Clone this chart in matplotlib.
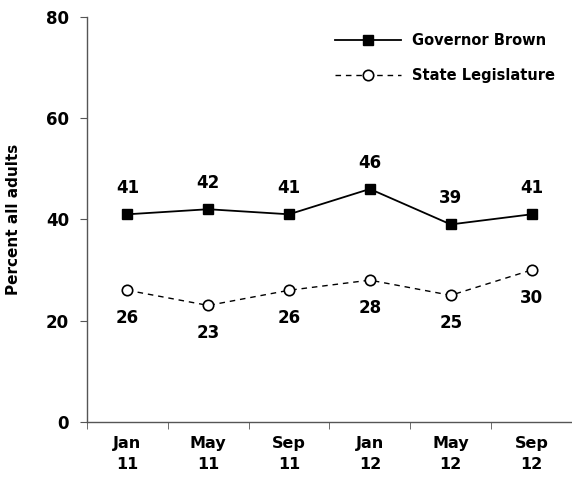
import matplotlib.pyplot as plt

# approval ratings, percent of all adults
periods = ["Jan\n11", "May\n11", "Sep\n11", "Jan\n12", "May\n12", "Sep\n12"]
governor = [41, 42, 41, 46, 39, 41]
legislature = [26, 23, 26, 28, 25, 30]

plt.rcParams['font.family'] = ['DejaVu Sans']
plt.rcParams['font.weight'] = 'bold'

fig = plt.figure(figsize=(5.72, 4.8), dpi=100)
ax = fig.add_axes([0.152, 0.121, 0.848, 0.844])

x = range(len(periods))
ax.plot(x, governor, color='black', lw=1.3, marker='s', markersize=7.5,
        markerfacecolor='black', label='Governor Brown')
ax.plot(x, legislature, color='black', lw=1.0, ls=(0, (4, 3.5)), marker='o',
        markersize=7.5, markerfacecolor='white', markeredgecolor='black',
        markeredgewidth=1.2, label='State Legislature')

for i, v in enumerate(governor):
    ax.annotate(str(v), (i, v), xytext=(0, 19), textcoords='offset points',
                ha='center', va='center', fontsize=12, fontweight='bold')
for i, v in enumerate(legislature):
    ax.annotate(str(v), (i, v), xytext=(0, -20), textcoords='offset points',
                ha='center', va='center', fontsize=12, fontweight='bold')

ax.set_xlim(-0.5, 5.5)
ax.set_ylim(0, 80)
ax.set_yticks([0, 20, 40, 60, 80])
ax.set_xticks(list(x))
ax.set_xticklabels(periods, fontsize=11.5, fontweight='bold', linespacing=1.5)
ax.set_xticks([i - 0.5 for i in range(len(periods) + 1)], minor=True)
ax.tick_params(axis='x', which='major', length=0, pad=10)
ax.tick_params(axis='x', which='minor', length=5, color='#555555')
ax.tick_params(axis='y', length=5, color='#555555', pad=8, labelsize=12)
for t in ax.get_yticklabels():
    t.set_fontweight('bold')

ax.set_ylabel('Percent all adults', fontsize=11, fontweight='bold', labelpad=18)

for side in ['top', 'right']:
    ax.spines[side].set_visible(False)
for side in ['left', 'bottom']:
    ax.spines[side].set_color('#555555')
    ax.spines[side].set_linewidth(1.0)

leg = ax.legend(loc='upper left', bbox_to_anchor=(335 / 572, 1 - 33 / 480),
                bbox_transform=fig.transFigure, frameon=False,
                borderpad=0, borderaxespad=0,
                prop={'size': 10.5, 'weight': 'bold'}, handlelength=4.5,
                handletextpad=0.8, labelspacing=1.35)

fig.savefig('out.png', dpi=100)
